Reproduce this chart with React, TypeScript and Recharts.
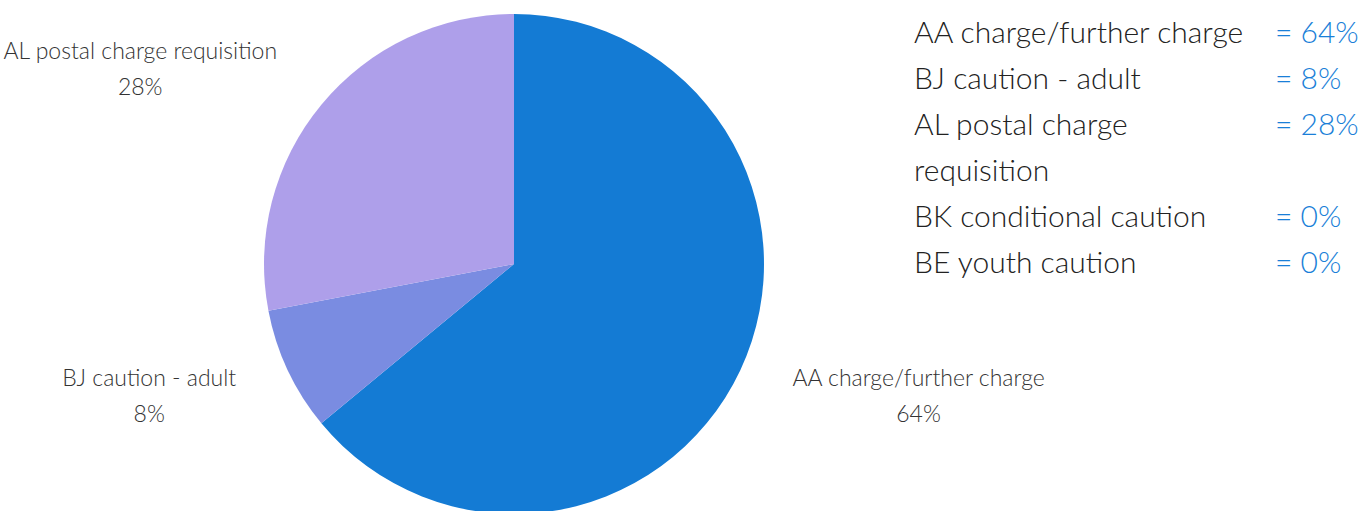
import React from 'react';
import { Legend, Pie, PieChart } from 'recharts';

const categories = [
  'AA charge/further charge',
  'BJ caution - adult',
  'AL postal charge requisition',
  'BK conditional caution',
  'BE youth caution',
];
const shares = [64, 8, 28, 0, 0];
const colors = ['#147bd4', '#7a8ce1', '#ae9fea', '#5b6bd0', '#9b7fe0'];

const FONT = 'Lato, "Open Sans", sans-serif';
const LABEL_SIZE = 23;
const LEGEND_SIZE = 30;

const data = categories.map((name, i) => ({ name, value: shares[i], fill: colors[i] }));

let ctx: CanvasRenderingContext2D | null = null;
const measure = (text: string) => {
  if (!ctx) ctx = document.createElement('canvas').getContext('2d');
  if (!ctx) return text.length * LABEL_SIZE * 0.5;
  ctx.font = `300 ${LABEL_SIZE}px Lato`;
  return ctx.measureText(text).width;
};

const RAD = Math.PI / 180;

const renderLabel = (props: any) => {
  const { cx, cy, midAngle, outerRadius, name, percent, value } = props;
  if (!value) return null;
  const r = outerRadius + 57;
  const x = cx + r * Math.cos(-midAngle * RAD);
  const y = cy + r * Math.sin(-midAngle * RAD);
  const pct = `${Math.round(percent * 100)}%`;
  const w = Math.max(measure(name), measure(pct));
  const mid = x > cx ? x + w / 2 : x - w / 2;
  return (
    <g>
      <text x={mid} y={y - 18} textAnchor="middle" dominantBaseline="central" fill="#333" fontSize={LABEL_SIZE} fontWeight={300} fontFamily={FONT}>
        {name}
      </text>
      <text x={mid} y={y + 18} textAnchor="middle" dominantBaseline="central" fill="#333" fontSize={LABEL_SIZE} fontWeight={300} fontFamily={FONT}>
        {pct}
      </text>
    </g>
  );
};

const renderLegend = () => (
  <div style={{ fontFamily: FONT, fontWeight: 300, fontSize: LEGEND_SIZE, lineHeight: '46px' }}>
    {data.map((d) => (
      <div key={d.name} style={{ display: 'flex' }}>
        <div style={{ width: 361, paddingRight: 20, boxSizing: 'border-box', color: '#222' }}>{d.name}</div>
        <div style={{ color: '#1a7fd8', whiteSpace: 'nowrap' }}>= {d.value}%</div>
      </div>
    ))}
  </div>
);

export default function App() {
  return (
    <div style={{ position: 'absolute', left: 0, top: 0, background: '#fff' }}>
      <PieChart width={1360} height={511} margin={{ top: 0, right: 0, bottom: 0, left: 0 }}>
        <Pie
          data={data}
          dataKey="value"
          nameKey="name"
          cx={514}
          cy={264}
          outerRadius={250}
          startAngle={90}
          endAngle={-270}
          stroke="none"
          label={renderLabel}
          labelLine={false}
          isAnimationActive={false}
        />
        <Legend
          content={renderLegend}
          wrapperStyle={{ position: 'absolute', left: 914, top: 8, width: 446 }}
        />
      </PieChart>
    </div>
  );
}
